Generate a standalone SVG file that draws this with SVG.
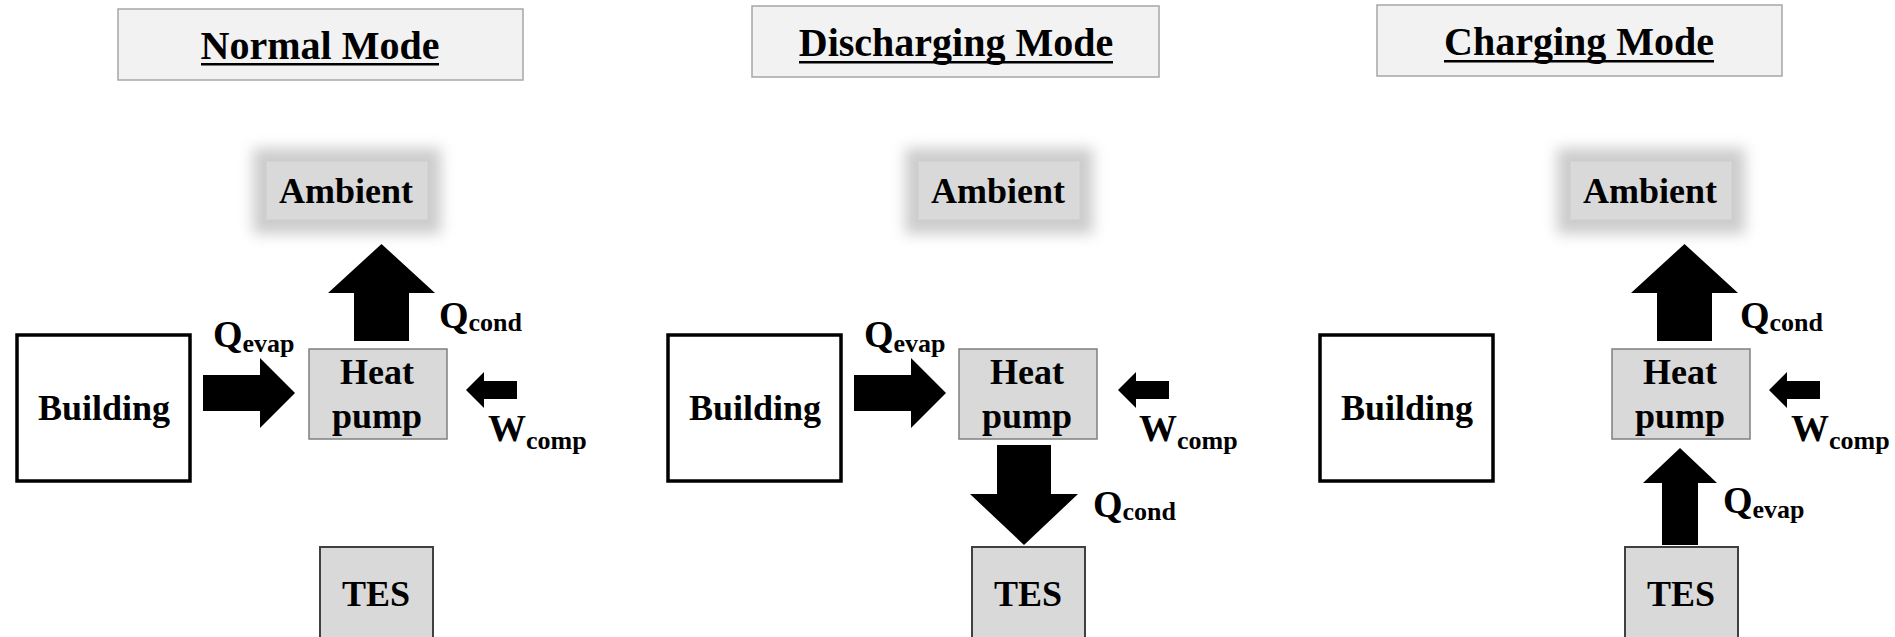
<svg xmlns="http://www.w3.org/2000/svg" width="1895" height="637" viewBox="0 0 1895 637">
<style>
text{font-family:"Liberation Serif","Times New Roman",serif;font-weight:bold;fill:#000}
.title{font-size:40px}
.uline{fill:#000}
.lbl{font-size:36px}
.q{font-size:38px}
.sub{font-size:26px}
.tbox{fill:#f2f2f2;stroke:#a6a6a6;stroke-width:1.5}
.bld{fill:#fff;stroke:#000;stroke-width:3.5}
.hp{fill:#d9d9d9;stroke:#7f7f7f;stroke-width:1.5}
.tes{fill:#d9d9d9;stroke:#404040;stroke-width:2}
.glow{fill:#cccccc;filter:url(#blur)}
.amb{fill:#d9d9d9;stroke:#dadada;stroke-width:1}
.arrow{fill:#000}
</style>
<defs>
<filter id="blur" x="-30%" y="-60%" width="160%" height="220%"><feGaussianBlur stdDeviation="7"/></filter>
</defs>
<rect width="1895" height="637" fill="#fff"/>

<!-- Panel 1: Normal Mode -->
<g id="title-normal"><rect class="tbox" x="118" y="9" width="405" height="71"/><text class="title" x="320" y="59" text-anchor="middle">Normal Mode</text><rect class="uline" x="201" y="63" width="238" height="2.5"/></g>
<g id="ambient-1"><rect class="glow" x="253" y="148" width="188" height="86"/><rect class="amb" x="267" y="162" width="160" height="57"/><text class="lbl" x="346" y="203" text-anchor="middle">Ambient</text></g>
<g id="building-1"><rect class="bld" x="17" y="335" width="173" height="146"/><text class="lbl" x="104" y="420" text-anchor="middle">Building</text></g>
<g id="heatpump-1"><rect class="hp" x="309" y="349" width="138" height="90"/><text class="lbl" x="377" y="384" text-anchor="middle">Heat</text><text class="lbl" x="377" y="428" text-anchor="middle">pump</text></g>
<g id="tes-1"><rect class="tes" x="320" y="547" width="113" height="100"/><text class="lbl" x="376" y="606" text-anchor="middle">TES</text></g>

<!-- Panel 2: Discharging Mode -->
<g id="title-discharging"><rect class="tbox" x="752" y="6" width="407" height="71"/><text class="title" x="956" y="56" text-anchor="middle">Discharging Mode</text><rect class="uline" x="799" y="61" width="314" height="2.5"/></g>
<g id="ambient-2"><rect class="glow" x="905" y="148" width="188" height="86"/><rect class="amb" x="919" y="162" width="160" height="57"/><text class="lbl" x="998" y="203" text-anchor="middle">Ambient</text></g>
<g id="building-2"><rect class="bld" x="668" y="335" width="173" height="146"/><text class="lbl" x="755" y="420" text-anchor="middle">Building</text></g>
<g id="heatpump-2"><rect class="hp" x="959" y="349" width="138" height="90"/><text class="lbl" x="1027" y="384" text-anchor="middle">Heat</text><text class="lbl" x="1027" y="428" text-anchor="middle">pump</text></g>
<g id="tes-2"><rect class="tes" x="972" y="547" width="113" height="100"/><text class="lbl" x="1028" y="606" text-anchor="middle">TES</text></g>

<!-- Panel 3: Charging Mode -->
<g id="title-charging"><rect class="tbox" x="1377" y="5" width="405" height="71"/><text class="title" x="1579" y="55" text-anchor="middle">Charging Mode</text><rect class="uline" x="1444" y="60" width="270" height="2.5"/></g>
<g id="ambient-3"><rect class="glow" x="1557" y="148" width="188" height="86"/><rect class="amb" x="1571" y="162" width="160" height="57"/><text class="lbl" x="1650" y="203" text-anchor="middle">Ambient</text></g>
<g id="building-3"><rect class="bld" x="1320" y="335" width="173" height="146"/><text class="lbl" x="1407" y="420" text-anchor="middle">Building</text></g>
<g id="heatpump-3"><rect class="hp" x="1612" y="349" width="138" height="90"/><text class="lbl" x="1680" y="384" text-anchor="middle">Heat</text><text class="lbl" x="1680" y="428" text-anchor="middle">pump</text></g>
<g id="tes-3"><rect class="tes" x="1625" y="547" width="113" height="100"/><text class="lbl" x="1681" y="606" text-anchor="middle">TES</text></g>

<g id="connectors">
<!-- Panel 1 -->
<polygon class="arrow" points="203,375 260,375 260,358 295,393 260,428 260,411 203,411"/>
<polygon class="arrow" points="354,341 354,293 328,293 381.5,244 435,293 409,293 409,341"/>
<polygon class="arrow" points="517,381 484,381 484,372 466,390 484,408 484,399 517,399"/>
<!-- Panel 2 -->
<polygon class="arrow" points="854,375 911,375 911,358 946,393 911,428 911,411 854,411"/>
<polygon class="arrow" points="1169,381 1136,381 1136,372 1118,390 1136,408 1136,399 1169,399"/>
<polygon class="arrow" points="997,445 1051,445 1051,494 1078,494 1024,545 970,494 997,494"/>
<!-- Panel 3 -->
<polygon class="arrow" points="1657,341 1657,293 1631,293 1684.5,244 1738,293 1712,293 1712,341"/>
<polygon class="arrow" points="1820,381 1787,381 1787,372 1769,390 1787,408 1787,399 1820,399"/>
<polygon class="arrow" points="1662,545 1662,483 1643,483 1680,448 1717,483 1698,483 1698,545"/>
</g>

<g id="labels">
<text class="q" x="213" y="347">Q<tspan class="sub" dy="5">evap</tspan></text>
<text class="q" x="439" y="328">Q<tspan class="sub" dy="3">cond</tspan></text>
<text class="q" x="488" y="441">W<tspan class="sub" dy="8">comp</tspan></text>

<text class="q" x="864" y="347">Q<tspan class="sub" dy="5">evap</tspan></text>
<text class="q" x="1093" y="517">Q<tspan class="sub" dy="3">cond</tspan></text>
<text class="q" x="1139" y="441">W<tspan class="sub" dy="8">comp</tspan></text>

<text class="q" x="1740" y="328">Q<tspan class="sub" dy="3">cond</tspan></text>
<text class="q" x="1791" y="441">W<tspan class="sub" dy="8">comp</tspan></text>
<text class="q" x="1723" y="513">Q<tspan class="sub" dy="5">evap</tspan></text>
</g>
</svg>
